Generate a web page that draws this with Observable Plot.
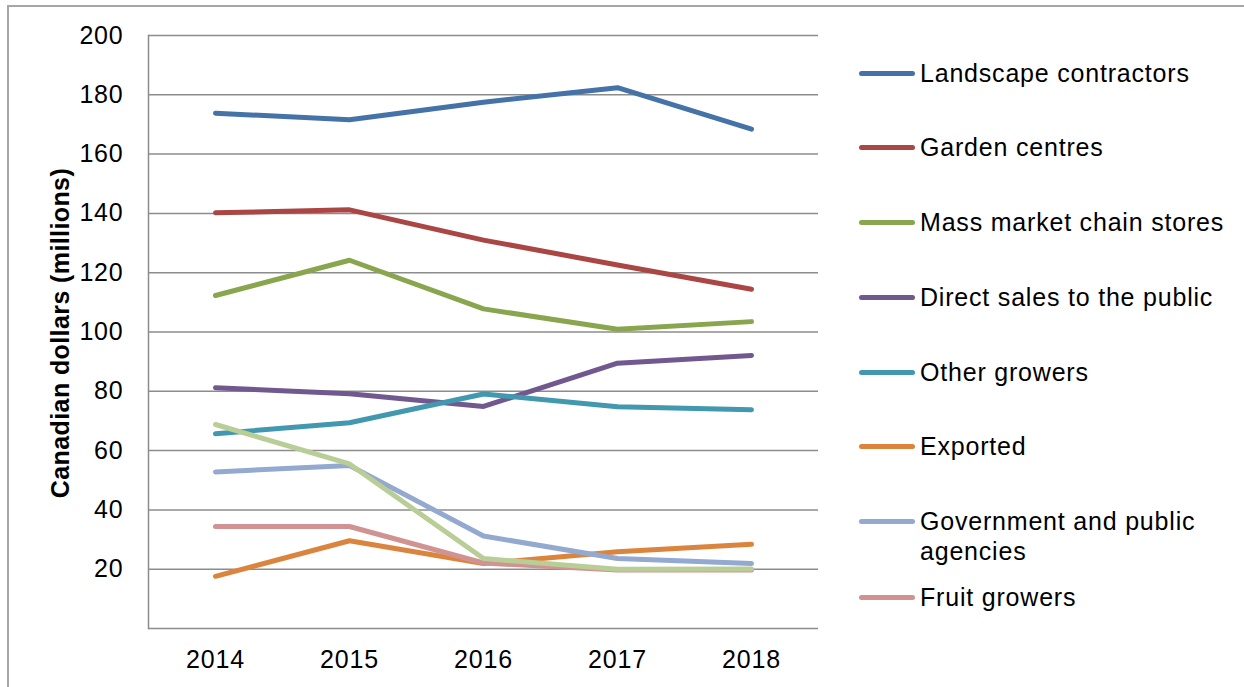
<!DOCTYPE html>
<html>
<head>
<meta charset="utf-8">
<script src="https://cdn.jsdelivr.net/npm/d3@7"></script>
<script src="https://cdn.jsdelivr.net/npm/@observablehq/plot@0.6"></script>
<style>
  html, body { margin: 0; padding: 0; background: #fff; }
  #wrap { position: relative; width: 1244px; height: 687px; overflow: hidden; font-family: "Liberation Sans", Arial, sans-serif; }
  #border { position: absolute; left: 7px; top: 5px; right: -5px; bottom: -5px; border-left: 2px solid #a6a6a6; border-top: 2px solid #a6a6a6; }
  #legend { position: absolute; left: 0; top: 0; }
  .item { position: absolute; left: 859px; display: flex; align-items: flex-start; font-size: 25px; letter-spacing: 0.8px; line-height: 30px; color: #000; }
  .swatch { width: 56px; height: 5px; border-radius: 3px; margin-top: 13px; margin-right: 5px; flex: none; }
  #ytitle { position: absolute; left: 60px; top: 333px; transform: translate(-50%, -50%) rotate(-90deg); font-size: 25px; letter-spacing: 0.4px; font-weight: bold; white-space: nowrap; }
  #chart svg text { letter-spacing: 0.8px; }
</style>
</head>
<body>
<div id="wrap">
  <div id="border"></div>
  <div id="chart"></div>
  <div id="ytitle">Canadian dollars (millions)</div>
  <div id="legend"></div>
</div>
<script>
const years = ["2014", "2015", "2016", "2017", "2018"];
const seriesNames = [
  "Landscape contractors",
  "Garden centres",
  "Mass market chain stores",
  "Direct sales to the public",
  "Other growers",
  "Exported",
  "Government and public agencies",
  "Fruit growers",
  "Other"
];
const seriesColors = ["#4572A7", "#AA4643", "#89A54E", "#71588F", "#4198AF", "#DB843D", "#93A9CF", "#D19392", "#B9CD96"];
const landscapeContractors = [173.8, 171.6, 177.5, 182.4, 168.4];
const gardenCentres = [140.2, 141.2, 131.0, 122.6, 114.4];
const massMarketChainStores = [112.3, 124.2, 107.8, 100.9, 103.5];
const directSales = [81.2, 79.2, 74.9, 89.5, 92.1];
const otherGrowers = [65.7, 69.4, 79.1, 74.8, 73.8];
const exported = [17.6, 29.6, 21.9, 25.9, 28.4];
const governmentAgencies = [52.8, 55.0, 31.2, 23.6, 21.9];
const fruitGrowers = [34.4, 34.4, 22.1, 19.7, 19.7];
const otherUnlabelled = [68.8, 55.5, 23.6, 20.0, 20.1];
const yTicks = [20, 40, 60, 80, 100, 120, 140, 160, 180, 200];
const legendLabels = ["Landscape contractors", "Garden centres", "Mass market chain stores", "Direct sales to the public", "Other growers", "Exported", "Government and public\nagencies", "Fruit growers"];
const legendTops = [58, 132, 207, 282, 357, 431, 506, 582];

const allValues = [landscapeContractors, gardenCentres, massMarketChainStores, directSales, otherGrowers, exported, governmentAgencies, fruitGrowers, otherUnlabelled];
const data = [];
allValues.forEach((vals, i) => vals.forEach((v, j) => data.push({series: seriesNames[i], year: years[j], value: v})));

const chart = Plot.plot({
  width: 1244,
  height: 687,
  marginLeft: 148,
  marginRight: 426,
  marginTop: 35,
  marginBottom: 59,
  style: {fontFamily: "'Liberation Sans', Arial, sans-serif", fontSize: "25px", color: "#000", background: "transparent", overflow: "visible"},
  x: {type: "point", domain: years, padding: 0.5, label: null},
  y: {domain: [0, 200], label: null},
  color: {domain: seriesNames, range: seriesColors},
  marks: [
    Plot.gridY(yTicks, {stroke: "#8c8c8c", strokeOpacity: 1, strokeWidth: 1.5}),
    Plot.ruleY([0], {stroke: "#8c8c8c", strokeWidth: 1.5}),
    Plot.frame({anchor: "left", stroke: "#8c8c8c", strokeWidth: 1.5}),
    Plot.axisY(yTicks, {tickSize: 0, tickPadding: 25, fontSize: 25, label: null}),
    Plot.axisX({tickSize: 0, tickPadding: 22, fontSize: 25, label: null}),
    Plot.line(data, {x: "year", y: "value", z: "series", stroke: "series", strokeWidth: 5, strokeLinecap: "round", strokeLinejoin: "round"})
  ]
});
document.getElementById("chart").appendChild(chart);

const legend = document.getElementById("legend");
legendLabels.forEach((lab, i) => {
  const item = document.createElement("div");
  item.className = "item";
  item.style.top = legendTops[i] + "px";
  const sw = document.createElement("div");
  sw.className = "swatch";
  sw.style.background = seriesColors[i];
  const tx = document.createElement("div");
  tx.style.whiteSpace = "pre";
  tx.textContent = lab;
  item.appendChild(sw);
  item.appendChild(tx);
  legend.appendChild(item);
});
</script>
</body>
</html>
